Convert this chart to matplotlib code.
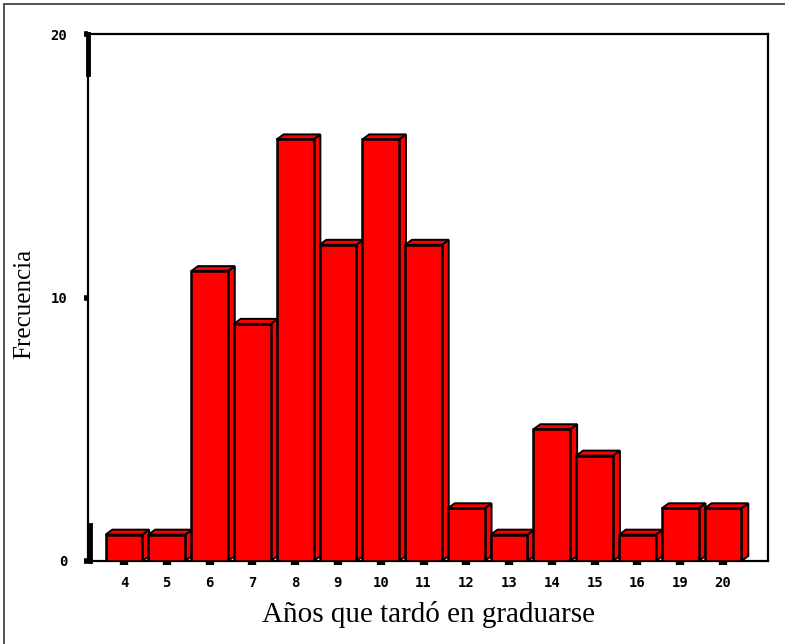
import numpy as np
import matplotlib.pyplot as plt
from matplotlib.patches import Polygon, Rectangle
from matplotlib.lines import Line2D

# years to graduate and how many students took that long
years = ["4", "5", "6", "7", "8", "9", "10", "11", "12", "13", "14", "15", "16", "19", "20"]
counts = [1, 1, 11, 9, 16, 12, 16, 12, 2, 1, 5, 4, 1, 2, 2]

fig = plt.figure(figsize=(7.85, 6.44), dpi=100)
ax = fig.add_axes([88 / 785, 1 - 561 / 644, 680 / 785, 527 / 644])

# outer frame of the whole picture
fig.add_artist(Rectangle((4 / 785, -0.01), 1.0, 1 - 4 / 644 + 0.01,
                         transform=fig.transFigure, fill=False,
                         edgecolor="#333333", linewidth=1.2))

red = "#ff0000"
w = 0.86          # front face width
ddx = 0.16        # depth offset in x (data units)
ddy = 0.19        # depth offset in y (data units)

x = np.arange(len(years))
for i, (xi, c) in enumerate(zip(x, counts)):
    left, right = xi - w / 2, xi + w / 2
    z = 3 + i
    side = Polygon([(right, 0), (right + ddx, ddy), (right + ddx, c + ddy), (right, c)],
                   closed=True, facecolor=red, edgecolor="black", linewidth=1.4, zorder=z)
    top = Polygon([(left, c), (left + ddx, c + ddy), (right + ddx, c + ddy), (right, c)],
                  closed=True, facecolor=red, edgecolor="black", linewidth=1.4, zorder=z)
    ax.add_patch(side)
    ax.add_patch(top)
    ax.bar(xi, c, width=w, color=red, edgecolor="black", linewidth=1.8, zorder=z + 0.5)

ax.set_xlim(-0.84, 15.05)
ax.set_ylim(0, 20)

for s in ax.spines.values():
    s.set_linewidth(1.6)
    s.set_color("black")

# heavier stubs on the value axis
ax.add_line(Line2D([0, 0], [18.5, 20], transform=ax.get_yaxis_transform(),
                   color="black", linewidth=3.5, clip_on=False, zorder=20))
ax.add_line(Line2D([0.003, 0.003], [0, 1.35], transform=ax.get_yaxis_transform(),
                   color="black", linewidth=3.5, clip_on=False, zorder=20))

ax.set_yticks([0, 10, 20])
ax.set_yticklabels(["0", "10", "20"])
ax.set_xticks(x)
ax.set_xticklabels(years)
ax.tick_params(axis="y", length=3, width=4, pad=12, labelsize=10)
ax.tick_params(axis="x", length=3, width=6, pad=8, labelsize=10)
for lab in ax.get_xticklabels() + ax.get_yticklabels():
    lab.set_family("DejaVu Sans Mono")
    lab.set_fontweight("bold")

ax.set_xlabel("Años que tardó en graduarse", family="Liberation Serif", fontsize=21, labelpad=8)
ax.set_ylabel("Frecuencia", family="Liberation Serif", fontsize=18)
ax.yaxis.set_label_coords(-0.077, 0.488)

fig.savefig("out.png", dpi=100)
